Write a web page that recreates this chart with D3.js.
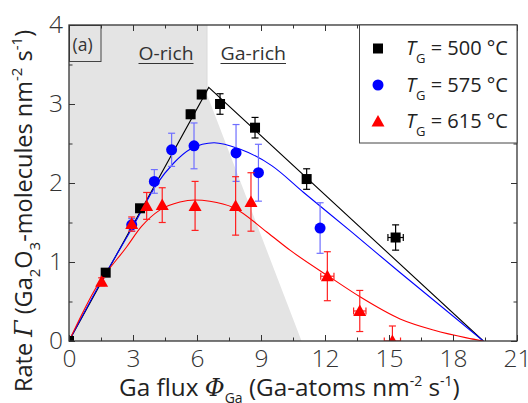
<!DOCTYPE html>
<html><head><meta charset="utf-8">
<script src="https://cdn.jsdelivr.net/npm/d3@7"></script>
<style>
body{margin:0;background:#fff;}
svg{display:block;font-family:"Open Sans",sans-serif;}
</style></head>
<body><svg id="c" width="528" height="403"></svg>
<script>
// ---- data ----
const xTicks = [0,3,6,9,12,15,18,21];
const yTicks = [0,1,2,3,4];
const seriesNames = ["500 °C","575 °C","615 °C"];
const seriesColors = ["#000000","#0000ff","#ff0000"];
const errColors = ["#000000","#6f6fff","#ff2020"];

// points: [x, y, yErr, xErr]
const pts500 = [[0,0,0,0],[1.72,0.865,0.04,0],[3.33,1.68,0.04,0],[5.70,2.87,0.05,0],[6.22,3.12,0.05,0],
  [7.08,3.00,0.13,0],[8.72,2.70,0.13,0],[11.14,2.05,0.13,0],[15.31,1.31,0.16,0.36]];
const pts575 = [[2.94,1.47,0.08,0],[4.00,2.02,0.15,0],[4.81,2.42,0.21,0],[5.86,2.47,0.29,0],
  [7.83,2.38,0.36,0],[8.88,2.13,0.36,0],[11.77,1.43,0.32,0]];
const pts615 = [[1.53,0.75,0.05,0],[2.94,1.48,0.09,0],[3.64,1.71,0.17,0],[4.37,1.72,0.22,0],
  [5.91,1.71,0.31,0],[7.81,1.71,0.37,0],[8.53,1.76,0.37,0],[12.11,0.82,0.31,0.31],
  [13.63,0.38,0.26,0.29],[15.16,0.0,0.19,0.38]];

// fit curves
const fit500 = [[0,0],[6.55,3.21],[19.42,0]];
const fit575 = [[0,0],[1.5,0.75],[3,1.45],[4.1,1.98],[4.9,2.25],[5.7,2.43],[6.8,2.51],[8,2.43],
  [9.5,2.22],[11,1.88],[13.2,1.39],[15.5,0.87],[19.42,0]];
const fit615 = [[0,0],[1.3,0.69],[2.7,1.19],[3.4,1.45],[4.27,1.66],[5.2,1.76],[5.9,1.785],[6.6,1.77],[7.7,1.69],
  [9.27,1.38],[10.36,1.15],[12.39,0.78],[13.64,0.56],[15.52,0.28],[17.08,0.14],[18.64,0.04],[19.42,0]];

// shaded O-rich region outline
const shade = [[0,0],[0,4],[6.47,4],[6.47,3.12],[10.9,0]];

// ---- drawing ----
const svg = d3.select("#c");
const x = d3.scaleLinear().domain([0,21]).range([69,517]);
const y = d3.scaleLinear().domain([0,4]).range([341,25]);
const axisCol = "#333";

svg.append("clipPath").attr("id","clip").append("rect")
  .attr("x",69).attr("y",25).attr("width",448).attr("height",316);

const plot = svg.append("g").attr("clip-path","url(#clip)");
plot.append("path").datum(shade)
  .attr("d", d3.line().x(d=>x(d[0])).y(d=>y(d[1])))
  .attr("fill","#e4e4e4");
plot.append("line").attr("x1",x(6.47)).attr("x2",x(6.47)).attr("y1",y(4)).attr("y2",y(3.12))
  .attr("stroke","#dadada").attr("stroke-width",1);

// region labels
[["O-rich",138.5,193.5],["Ga-rich",220.5,286]].forEach(([t,a,b])=>{
  const tx = svg.append("text").attr("x",a).attr("y",60).attr("font-size",17.5)
    .attr("fill","#333").text(t);
  tx.attr("textLength",b-a).attr("lengthAdjust","spacingAndGlyphs");
  svg.append("line").attr("x1",a).attr("x2",b).attr("y1",63.5).attr("y2",63.5)
    .attr("stroke","#333").attr("stroke-width",1.1);
});

// panel label
svg.append("rect").attr("x",69.5).attr("y",25.5).attr("width",31.5).attr("height",36)
  .attr("fill","none").attr("stroke","#444").attr("stroke-width",1);
svg.append("text").attr("x",72.5).attr("y",51).attr("font-size",17.5).attr("fill","#333").text("(a)");

// fit lines
const lineGen = d3.line().x(d=>x(d[0])).y(d=>y(d[1]));
const fits = [fit500, fit575, fit615];
fits.forEach((f,i)=>{
  plot.append("path").datum(f)
    .attr("d", lineGen.curve(i===0 ? d3.curveLinear : d3.curveMonotoneX)(f))
    .attr("fill","none").attr("stroke",seriesColors[i]).attr("stroke-width",1.1);
});

// error bars + markers
const allPts = [pts500, pts575, pts615];
function marker(g, i, cx, cy){
  if(i===0){
    g.append("rect").attr("x",cx-5).attr("y",cy-5).attr("width",10).attr("height",10).attr("fill","#000");
  } else if(i===1){
    g.append("circle").attr("cx",cx).attr("cy",cy).attr("r",5.5).attr("fill","#0000ff");
  } else {
    g.append("path").attr("d",`M${cx},${cy-6.5}L${cx+6.5},${cy+5}L${cx-6.5},${cy+5}Z`).attr("fill","#ff0000");
  }
}
allPts.forEach((pts,i)=>{
  const g = plot.append("g");
  pts.forEach(p=>{
    const cx=x(p[0]), cy=y(p[1]);
    const col = errColors[i];
    if(p[2]>0){
      const t=y(p[1]+p[2]), b=y(p[1]-p[2]);
      g.append("line").attr("x1",cx).attr("x2",cx).attr("y1",t).attr("y2",b).attr("stroke",col).attr("stroke-width",1.2);
      g.append("line").attr("x1",cx-3.5).attr("x2",cx+3.5).attr("y1",t).attr("y2",t).attr("stroke",col).attr("stroke-width",1.2);
      g.append("line").attr("x1",cx-3.5).attr("x2",cx+3.5).attr("y1",b).attr("y2",b).attr("stroke",col).attr("stroke-width",1.2);
    }
    if(p[3]>0){
      const l=x(p[0]-p[3]), r=x(p[0]+p[3]);
      g.append("line").attr("x1",l).attr("x2",r).attr("y1",cy).attr("y2",cy).attr("stroke",col).attr("stroke-width",1.2);
      g.append("line").attr("x1",l).attr("x2",l).attr("y1",cy-3.5).attr("y2",cy+3.5).attr("stroke",col).attr("stroke-width",1.2);
      g.append("line").attr("x1",r).attr("x2",r).attr("y1",cy-3.5).attr("y2",cy+3.5).attr("stroke",col).attr("stroke-width",1.2);
    }
    marker(g,i,cx,cy);
  });
});

// axes (ticks inward)
const xMinor = d3.range(1.5,21,3);
const yMinor = d3.range(0.5,4,1);
function styleAxis(g){
  g.selectAll(".domain").remove();
  g.selectAll("line").attr("stroke",axisCol).attr("stroke-width",1);
  g.selectAll("text").attr("fill","#333").attr("font-size",24.5).attr("font-weight",300)
    .attr("font-family","'Open Sans',sans-serif");
}
svg.append("g").attr("transform","translate(0,341)")
  .call(d3.axisBottom(x).tickValues(xTicks).tickSize(-6).tickPadding(9).tickFormat(d3.format("d"))).call(styleAxis);
svg.append("g").attr("transform","translate(0,341)")
  .call(d3.axisBottom(x).tickValues(xMinor).tickSize(-3.5).tickFormat("")).call(styleAxis);
svg.append("g").attr("transform","translate(0,25)")
  .call(d3.axisTop(x).tickValues(xTicks).tickSize(-6).tickFormat("")).call(styleAxis);
svg.append("g").attr("transform","translate(0,25)")
  .call(d3.axisTop(x).tickValues(xMinor).tickSize(-3.5).tickFormat("")).call(styleAxis);
svg.append("g").attr("transform","translate(69,0)")
  .call(d3.axisLeft(y).tickValues(yTicks).tickSize(-6).tickPadding(6).tickFormat(d3.format("d"))).call(styleAxis);
svg.append("g").attr("transform","translate(69,0)")
  .call(d3.axisLeft(y).tickValues(yMinor).tickSize(-3.5).tickFormat("")).call(styleAxis);
svg.append("g").attr("transform","translate(517,0)")
  .call(d3.axisRight(y).tickValues(yTicks).tickSize(-6).tickFormat("")).call(styleAxis);
svg.append("g").attr("transform","translate(517,0)")
  .call(d3.axisRight(y).tickValues(yMinor).tickSize(-3.5).tickFormat("")).call(styleAxis);

svg.append("rect").attr("x",69).attr("y",25).attr("width",448).attr("height",316)
  .attr("fill","none").attr("stroke",axisCol).attr("stroke-width",1.3);

// legend
const lg = svg.append("g");
lg.append("rect").attr("x",359.5).attr("y",25).attr("width",157.5).attr("height",118)
  .attr("fill","#fff").attr("stroke","#444").attr("stroke-width",1);
const legY = [48.5,85,121.5];
seriesNames.forEach((n,i)=>{
  marker(lg,i,378,legY[i]);
  const t = lg.append("text").attr("x",406).attr("y",legY[i]+6.5).attr("font-size",20).attr("fill","#222");
  t.append("tspan").attr("font-style","italic").text("T");
  t.append("tspan").attr("font-size",13).attr("dy",8).text("G");
  t.append("tspan").attr("dy",-8).text(" = " + n);
});

// x axis title
const xt = svg.append("text").attr("x",119).attr("y",396).attr("font-size",24.3).attr("fill","#222");
xt.append("tspan").text("Ga flux ");
xt.append("tspan").attr("font-style","italic").attr("font-family","'DejaVu Serif',serif").text("Φ");
xt.append("tspan").attr("font-size",14).attr("dy",7).text("Ga");
xt.append("tspan").attr("dy",-7).text(" (Ga-atoms nm");
xt.append("tspan").attr("font-size",14).attr("dy",-10).text("-2");
xt.append("tspan").attr("dy",10).text(" s");
xt.append("tspan").attr("font-size",14).attr("dy",-10).text("-1");
xt.append("tspan").attr("dy",10).text(")");

// y axis title
const yt = svg.append("text").attr("transform","translate(32,392) rotate(-90)").attr("font-size",23.5).attr("fill","#222");
yt.append("tspan").text("Rate ");
yt.append("tspan").attr("font-style","italic").attr("font-family","'DejaVu Serif',serif").text("Γ");
yt.append("tspan").text(" (Ga");
yt.append("tspan").attr("font-size",15).attr("dy",8).text("2");
yt.append("tspan").attr("dy",-8).text("O");
yt.append("tspan").attr("font-size",15).attr("dy",8).text("3");
yt.append("tspan").attr("dy",-8).text("-molecules nm");
yt.append("tspan").attr("font-size",15).attr("dy",-10).text("-2");
yt.append("tspan").attr("dy",10).text(" s");
yt.append("tspan").attr("font-size",15).attr("dy",-10).text("-1");
yt.append("tspan").attr("dy",10).text(")");
</script></body></html>
